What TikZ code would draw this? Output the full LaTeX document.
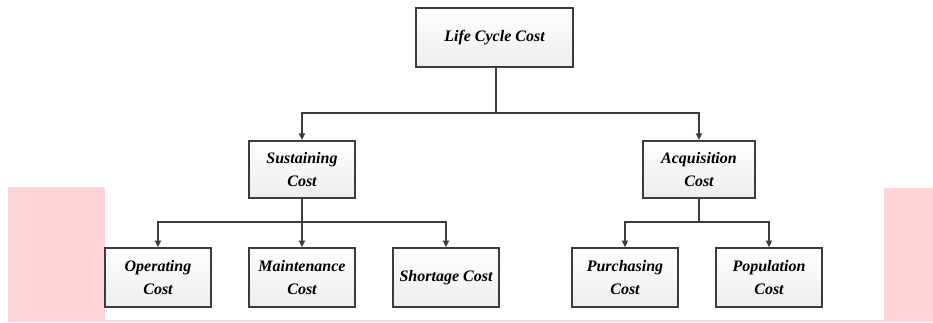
\documentclass[tikz,border=0pt]{standalone}
\usepackage{fontspec}
\setmainfont{Liberation Serif}
\usetikzlibrary{arrows.meta}
\definecolor{pinkbg}{RGB}{255,212,216}
\definecolor{edgec}{RGB}{60,60,60}
\begin{document}
\begin{tikzpicture}[x=0.75pt,y=-0.75pt,
  box/.style={draw=edgec,line width=1.3pt,top color=white,bottom color=gray!14,
    minimum width=79.5pt,minimum height=44pt,align=center,inner sep=1pt,
    font=\fontsize{12}{17}\selectfont\bfseries\itshape},
  conn/.style={draw=edgec,line width=1.2pt},
  arr/.style={conn,-{Triangle[length=5pt,width=4.5pt]}}]
\useasboundingbox (0,0) rectangle (933,322);
\fill[pinkbg] (8,187) rectangle (105,320);
\fill[pinkbg] (884,188) rectangle (933,320);
\fill[pinkbg] (8,319.5) rectangle (933,321.5);
\node[box,minimum width=117.75pt] (lcc) at (494.5,37.5) {Life Cycle Cost};
\node[box,minimum height=42.75pt] (sus) at (302,169.5) {Sustaining\\Cost};
\node[box,minimum width=84pt,minimum height=42.75pt] (acq) at (699,169.5) {Acquisition\\Cost};
\node[box] (op) at (158,277.5) {Operating\\Cost};
\node[box] (mai) at (302,277.5) {Maintenance\\Cost};
\node[box] (sho) at (446,277.5) {Shortage Cost};
\node[box] (pur) at (625,277.5) {Purchasing\\Cost};
\node[box] (pop) at (769,277.5) {Population\\Cost};
\coordinate (j1) at (496,113);
\coordinate (j2) at (302,222);
\coordinate (j3) at (699,222);
\draw[conn] (lcc.south -| j1) -- (j1);
\draw[arr] (j1) -| (sus.north);
\draw[arr] (j1) -| (acq.north);
\draw[conn] (sus.south) -- (j2);
\draw[arr] (j2) -| (op.north);
\draw[arr] (j2) -- (mai.north);
\draw[arr] (j2) -| (sho.north);
\draw[conn] (acq.south) -- (j3);
\draw[arr] (j3) -| (pur.north);
\draw[arr] (j3) -| (pop.north);
\end{tikzpicture}
\end{document}
